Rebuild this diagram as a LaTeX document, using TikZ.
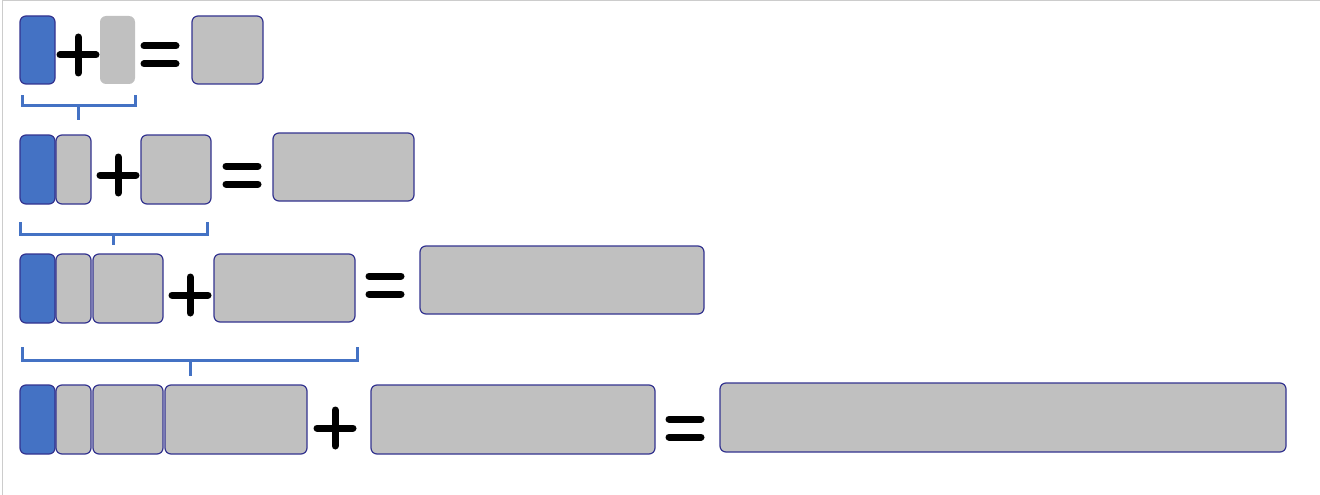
\documentclass[tikz,border=0pt]{standalone}
\begin{document}
\begin{tikzpicture}[x=1pt,y=-1pt,
  blk/.style={draw=blue!45!black!80,line width=1.2pt,rounded corners=6pt},
  bluebox/.style={blk,fill={rgb,255:red,68;green,114;blue,196}},
  graybox/.style={blk,fill={rgb,255:red,192;green,192;blue,192}},
  plain/.style={rounded corners=6pt,fill={rgb,255:red,192;green,192;blue,192}},
  op/.style={line width=7pt,black,line cap=round},
  brace/.style={draw={rgb,255:red,68;green,114;blue,196},line width=3pt}]
\useasboundingbox (0,0) rectangle (1320,495);
\draw[gray!40,line width=1pt] (2,495) -- (2,1) -- (1320,1);
\newcommand\bx[6]{\path[#1] (#2,#3) rectangle (#4,#5) coordinate (#6);}
% row 1
\bx{bluebox}{20}{16}{55}{84}{a1}
\bx{plain}{100}{16}{135}{84}{a2}
\bx{graybox}{192}{16}{263}{84}{a3}
\newcommand\plus[2]{\draw[op] (#1-18,#2) -- (#1+18,#2); \draw[op] (#1,#2-18) -- (#1,#2+18);}
\newcommand\eq[2]{\draw[op] (#1-16,#2-9) -- (#1+16,#2-9); \draw[op] (#1-16,#2+9) -- (#1+16,#2+9);}
\plus{78}{55}
\eq{160}{55}
\draw[brace] (22,95) -- (22,105) -- (135,105) -- (135,95); \draw[brace] (78,105) -- (78,120);
% row 2
\bx{bluebox}{20}{135}{55}{204}{b1}
\bx{graybox}{56}{135}{91}{204}{b2}
\bx{graybox}{141}{135}{211}{204}{b3}
\bx{graybox}{273}{133}{414}{201}{b4}
\plus{118}{175}
\eq{242}{175}
\draw[brace] (20,222) -- (20,234) -- (207,234) -- (207,222); \draw[brace] (113,234) -- (113,245);
% row 3
\bx{bluebox}{20}{254}{55}{323}{c1}
\bx{graybox}{56}{254}{91}{323}{c2}
\bx{graybox}{93}{254}{163}{323}{c3}
\bx{graybox}{214}{254}{355}{322}{c4}
\bx{graybox}{420}{246}{704}{314}{c5}
\plus{190}{295}
\eq{385}{285}
\draw[brace] (22,347) -- (22,360) -- (357,360) -- (357,347); \draw[brace] (190,360) -- (190,376);
% row 4
\bx{bluebox}{20}{385}{55}{454}{d1}
\bx{graybox}{56}{385}{91}{454}{d2}
\bx{graybox}{93}{385}{163}{454}{d3}
\bx{graybox}{165}{385}{307}{454}{d4}
\bx{graybox}{371}{385}{655}{454}{d5}
\bx{graybox}{720}{383}{1286}{452}{d6}
\plus{335}{428}
\eq{685}{428}
\end{tikzpicture}
\end{document}
